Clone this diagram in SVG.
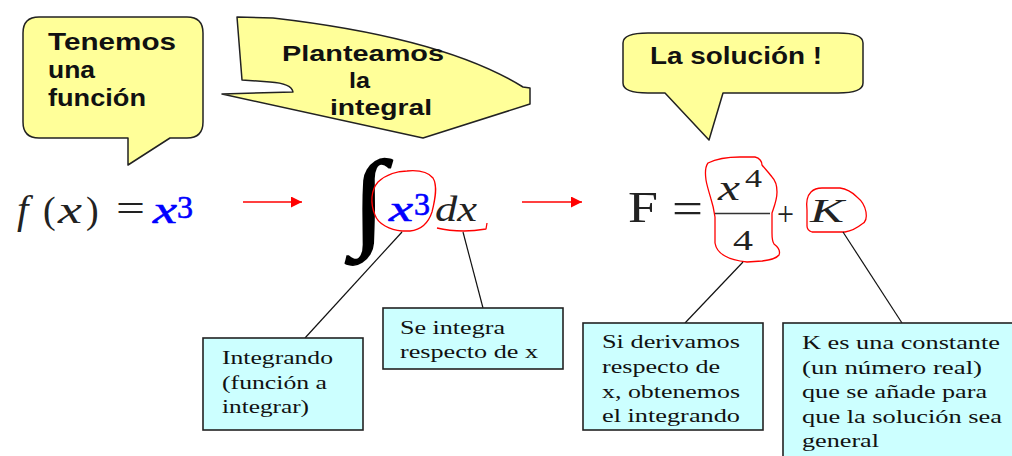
<svg xmlns="http://www.w3.org/2000/svg" width="1012" height="456" viewBox="0 0 1012 456">
<defs>
<style>
.bub{fill:#ffff99;stroke:#222;stroke-width:1.5;stroke-linejoin:round}
.bt{font-family:"Liberation Sans",Arial,sans-serif;font-weight:bold;fill:#111}
.box{fill:#ccffff;stroke:#222;stroke-width:1.6}
.xt{font-family:"Liberation Serif","Times New Roman",serif;font-size:19px;fill:#111}
.m{font-family:"Liberation Serif","Times New Roman",serif;fill:#222}
.mi{font-family:"Liberation Serif","Times New Roman",serif;font-style:italic;fill:#222}
.blue{fill:#0000ff}
.hl{fill:none;stroke:#ff0000;stroke-width:1.3;stroke-linejoin:round}
.ln{stroke:#111;stroke-width:1.2;fill:none}
.ar{stroke:#ff0000;stroke-width:1.5;fill:none}
</style>
<marker id="ah" viewBox="0 0 10 10" refX="10" refY="5" markerWidth="15" markerHeight="11" markerUnits="userSpaceOnUse" orient="auto">
<path d="M0,0 L10,5 L0,10 Z" fill="#ff0000"/>
</marker>
</defs>
<rect width="1012" height="456" fill="#ffffff"/>

<g id="bubble-funcion">
<path class="bub" d="M39,17 H187 Q203,17 203,33 V122 Q203,138 187,138 H170 L128,165 V138 H39 Q23,138 23,122 V33 Q23,17 39,17 Z"/>
<text class="bt" font-size="24" x="48" y="50" textLength="128" lengthAdjust="spacingAndGlyphs">Tenemos</text>
<text class="bt" font-size="24" x="48" y="78" textLength="47" lengthAdjust="spacingAndGlyphs">una</text>
<text class="bt" font-size="24" x="48" y="106" textLength="98" lengthAdjust="spacingAndGlyphs">función</text>
</g>

<g id="bubble-integral">
<path class="bub" d="M237,17 L273,18 C360,28 460,48 523,87 L530,88 L530,104 L423,138 L222,94 L293,92 C292,86 285,83 270,82 L242,80 Z"/>
<text class="bt" font-size="22" x="282" y="61" textLength="162" lengthAdjust="spacingAndGlyphs">Planteamos</text>
<text class="bt" font-size="22" x="349" y="88" textLength="21" lengthAdjust="spacingAndGlyphs">la</text>
<text class="bt" font-size="22" x="330" y="115" textLength="102" lengthAdjust="spacingAndGlyphs">integral</text>
</g>

<g id="bubble-solucion">
<path class="bub" d="M648,33 H838 Q863,33 863,43 V83 Q863,93 838,93 H723 L709,140 L665,93 H648 Q623,93 623,83 V43 Q623,33 648,33 Z"/>
<text class="bt" font-size="24" x="650" y="64" textLength="172" lengthAdjust="spacingAndGlyphs">La solución !</text>
</g>

<g id="formula-funcion">
<text class="mi" font-size="41" x="17" y="223">f</text>
<text class="m" font-size="38" x="43" y="223">(</text>
<text class="mi" font-size="38" x="58" y="223" textLength="24" lengthAdjust="spacingAndGlyphs">x</text>
<text class="m" font-size="38" x="86" y="223">)</text>
<text class="m" font-size="38" x="116" y="221" textLength="29" lengthAdjust="spacingAndGlyphs">=</text>
<text class="mi blue" font-size="38" x="153" y="223" textLength="24" lengthAdjust="spacingAndGlyphs" stroke="#0000ff" stroke-width="0.6">x</text>
<text class="m blue" font-size="31" x="177" y="218" textLength="16" lengthAdjust="spacingAndGlyphs" stroke="#0000ff" stroke-width="0.6">3</text>
</g>

<g id="formula-integral">
<text class="m" font-size="92" x="0" y="0" transform="translate(351.7,236) scale(1.35,1.18)" style="fill:#000" stroke="#000" stroke-width="1.4">∫</text>
<path class="hl" d="M402,231 C390,230 378,224 375,215 C370,203 371,190 378,182 C386,174 398,171 407,171 C418,170 428,172 433,178 C438,186 435,200 432,212 C428,224 420,230 410,231 Z"/>
<text class="mi blue" font-size="36" x="389" y="221" textLength="24" lengthAdjust="spacingAndGlyphs" stroke="#0000ff" stroke-width="0.6">x</text>
<text class="m blue" font-size="31" x="414" y="215" textLength="16" lengthAdjust="spacingAndGlyphs" stroke="#0000ff" stroke-width="0.6">3</text>
<text class="mi" font-size="36" x="435" y="221" textLength="42" lengthAdjust="spacingAndGlyphs">dx</text>
<path class="hl" d="M437,228 C445,230 455,231 464,231 C472,231 480,230 486,229 L487,223"/>
</g>

<g id="formula-solucion">
<text class="m" font-size="44" x="628" y="222" textLength="30" lengthAdjust="spacingAndGlyphs">F</text>
<text class="m" font-size="44" x="672" y="223" textLength="31" lengthAdjust="spacingAndGlyphs">=</text>
<path class="hl" d="M708,163 C718,158 730,157 740,157 L755,157 C760,158 762,162 762,165 C766,170 770,174 772,177 C776,181 777,186 777,192 C777,200 774,207 772,213 L772,233 C772,238 772,241 774,244 C778,247 781,250 779,255 C776,259 770,260 762,261 L747,262 C738,261 730,259 725,256 C719,253 716,249 715,243 L715,217 C714,210 713,205 711,199 C709,192 707,186 706,180 C705,173 705,167 708,163 Z"/>
<text class="mi" font-size="36" x="718" y="200" textLength="22" lengthAdjust="spacingAndGlyphs">x</text>
<text class="m" font-size="26" x="745" y="187" textLength="17" lengthAdjust="spacingAndGlyphs">4</text>
<line x1="715" y1="213.5" x2="770" y2="213.5" stroke="#333" stroke-width="1.6"/>
<text class="m" font-size="29" x="733" y="250" textLength="20" lengthAdjust="spacingAndGlyphs">4</text>
<text class="m" font-size="34" x="777" y="225" textLength="17" lengthAdjust="spacingAndGlyphs">+</text>
<path class="hl" d="M807,210 C806,202 808,195 811,192 C814,189 817,188 822,188 L840,188 C848,189 853,193 857,197 C862,201 865,206 866,212 C867,218 866,222 862,224 C857,228 851,231 845,232 L812,232 C809,231 807,229 807,226 Z"/>
<text class="mi" font-size="34" x="810" y="222" textLength="34" lengthAdjust="spacingAndGlyphs">K</text>
</g>

<g id="connectors">
<line class="ar" x1="243" y1="202" x2="302" y2="202" marker-end="url(#ah)"/>
<line class="ar" x1="522" y1="202" x2="582" y2="202" marker-end="url(#ah)"/>
<line class="ln" x1="402" y1="232" x2="305" y2="338"/>
<line class="ln" x1="463" y1="232" x2="483" y2="308"/>
<line class="ln" x1="743" y1="262" x2="685" y2="323"/>
<line class="ln" x1="843" y1="232" x2="902" y2="323"/>
</g>

<g id="box-integrando">
<rect class="box" x="203" y="338" width="160" height="92"/>
<text class="xt" x="222" y="364" textLength="111" lengthAdjust="spacingAndGlyphs">Integrando</text>
<text class="xt" x="222" y="389" textLength="105" lengthAdjust="spacingAndGlyphs">(función a</text>
<text class="xt" x="222" y="413" textLength="87" lengthAdjust="spacingAndGlyphs">integrar)</text>
</g>

<g id="box-diferencial">
<rect class="box" x="383" y="308" width="180" height="61"/>
<text class="xt" x="400" y="334" textLength="105" lengthAdjust="spacingAndGlyphs">Se integra</text>
<text class="xt" x="400" y="358" textLength="138" lengthAdjust="spacingAndGlyphs">respecto de x</text>
</g>

<g id="box-derivada">
<rect class="box" x="583" y="323" width="180" height="107"/>
<text class="xt" x="602" y="348" textLength="138" lengthAdjust="spacingAndGlyphs">Si derivamos</text>
<text class="xt" x="602" y="373" textLength="118" lengthAdjust="spacingAndGlyphs">respecto de</text>
<text class="xt" x="602" y="398" textLength="138" lengthAdjust="spacingAndGlyphs">x, obtenemos</text>
<text class="xt" x="602" y="422" textLength="138" lengthAdjust="spacingAndGlyphs">el integrando</text>
</g>

<g id="box-constante">
<rect class="box" x="783" y="323" width="240" height="150"/>
<text class="xt" x="802" y="349" textLength="198" lengthAdjust="spacingAndGlyphs">K es una constante</text>
<text class="xt" x="802" y="373.5" textLength="180" lengthAdjust="spacingAndGlyphs">(un número real)</text>
<text class="xt" x="802" y="398" textLength="185" lengthAdjust="spacingAndGlyphs">que se añade para</text>
<text class="xt" x="802" y="423" textLength="200" lengthAdjust="spacingAndGlyphs">que la solución sea</text>
<text class="xt" x="802" y="447" textLength="77" lengthAdjust="spacingAndGlyphs">general</text>
</g>
</svg>
